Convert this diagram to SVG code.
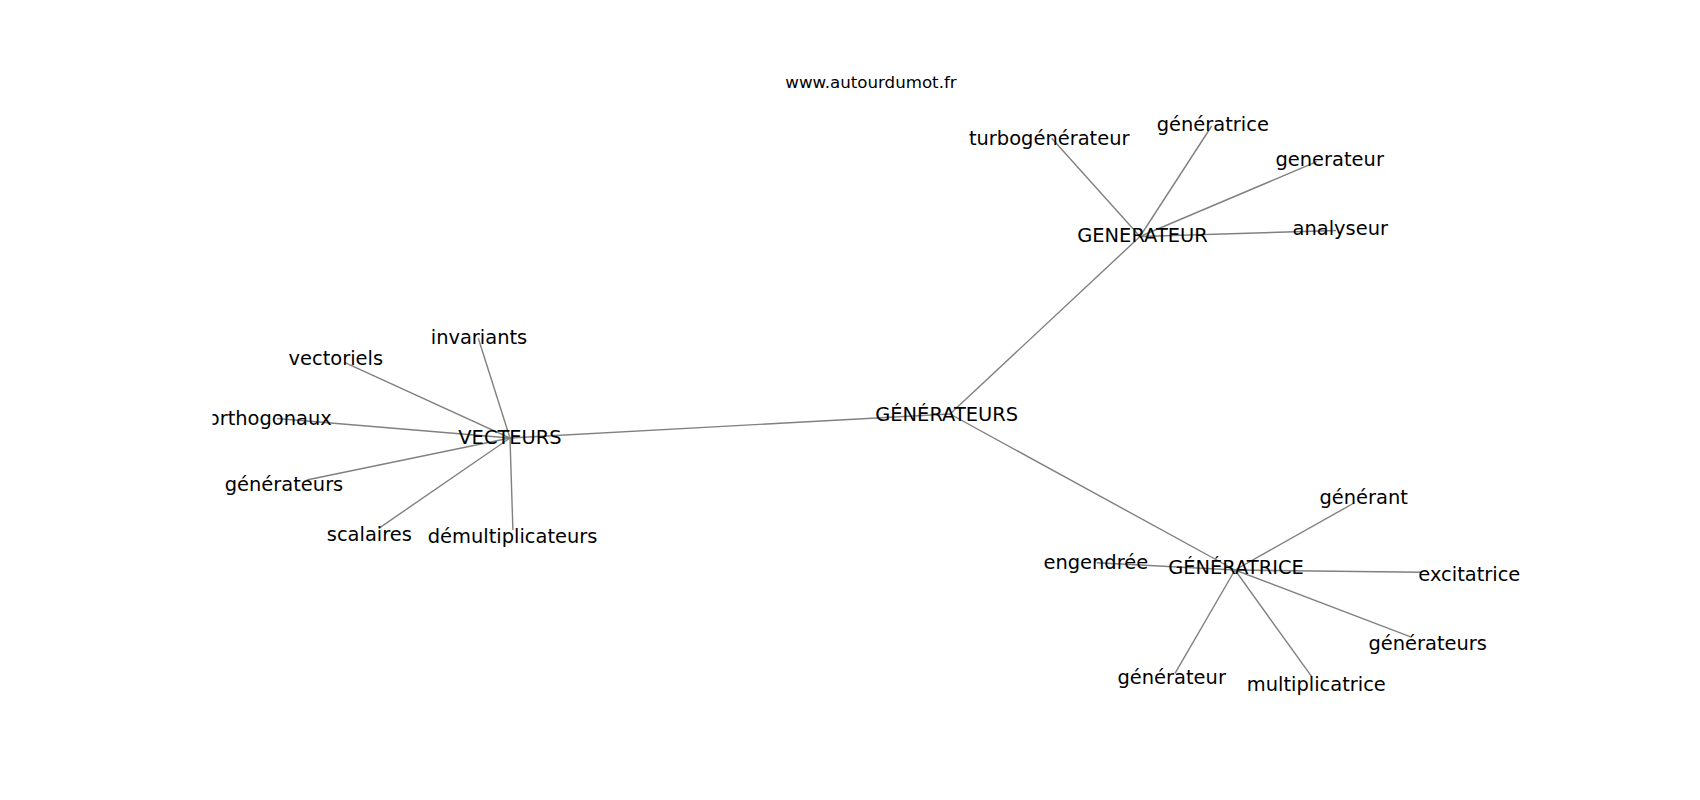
<svg xmlns="http://www.w3.org/2000/svg" width="1700" height="800" viewBox="0 0 1700 800">
<style>
.lbl{font-family:"DejaVu Sans","Liberation Sans",sans-serif;font-size:19.44px;fill:#000;text-anchor:middle}
.ttl{font-family:"DejaVu Sans","Liberation Sans",sans-serif;font-size:16.67px;fill:#000;text-anchor:middle}
.e{stroke:#808080;stroke-width:1.4;fill:none}
</style>
<defs>
<clipPath id="ax"><rect x="212.5" y="96" width="1317.5" height="616"/></clipPath>
</defs>
<rect width="1700" height="800" fill="#fff"/>
<text class="ttl" x="871" y="88">www.autourdumot.fr</text>
<g id="connectors" clip-path="url(#ax)">
<line class="e" x1="510" y1="438" x2="950" y2="414"/>
<line class="e" x1="950" y1="414" x2="1140" y2="236.5"/>
<line class="e" x1="950" y1="414" x2="1235" y2="570"/>
<line class="e" x1="510" y1="438" x2="478.3" y2="338.3"/>
<line class="e" x1="510" y1="438" x2="345" y2="362.7"/>
<line class="e" x1="510" y1="438" x2="277" y2="418.5"/>
<line class="e" x1="510" y1="438" x2="306.7" y2="480"/>
<line class="e" x1="510" y1="438" x2="378.8" y2="528.3"/>
<line class="e" x1="510" y1="438" x2="512.9" y2="530"/>
<line class="e" x1="1140" y1="236.5" x2="1051.7" y2="138.3"/>
<line class="e" x1="1140" y1="236.5" x2="1211.7" y2="126"/>
<line class="e" x1="1140" y1="236.5" x2="1316.7" y2="161.7"/>
<line class="e" x1="1140" y1="236.5" x2="1336" y2="230.5"/>
<line class="e" x1="1235" y1="570" x2="1354" y2="503"/>
<line class="e" x1="1235" y1="570" x2="1096.7" y2="562.7"/>
<line class="e" x1="1235" y1="570" x2="1422" y2="572.3"/>
<line class="e" x1="1235" y1="570" x2="1410" y2="636.7"/>
<line class="e" x1="1235" y1="570" x2="1175" y2="673.3"/>
<line class="e" x1="1235" y1="570" x2="1311.7" y2="676.7"/>
</g>
<g clip-path="url(#ax)">
<g id="n-generateurs-center"><text class="lbl" x="946.7" y="420.5">GÉNÉRATEURS</text></g>
<g id="n-vecteurs"><text class="lbl" x="510" y="443.8">VECTEURS</text></g>
<g id="n-generateur-caps"><text class="lbl" x="1142.5" y="242">GENERATEUR</text></g>
<g id="n-generatrice-caps"><text class="lbl" x="1236" y="573.8">GÉNÉRATRICE</text></g>
<g id="n-invariants"><text class="lbl" x="479" y="344">invariants</text></g>
<g id="n-vectoriels"><text class="lbl" x="335.8" y="365">vectoriels</text></g>
<g id="n-orthogonaux"><text class="lbl" x="269.8" y="425">orthogonaux</text></g>
<g id="n-generateurs-left"><text class="lbl" x="284" y="491">générateurs</text></g>
<g id="n-scalaires"><text class="lbl" x="369.3" y="540.5">scalaires</text></g>
<g id="n-demultiplicateurs"><text class="lbl" x="512.6" y="542.5">démultiplicateurs</text></g>
<g id="n-turbogenerateur"><text class="lbl" x="1049.2" y="145">turbogénérateur</text></g>
<g id="n-generatrice"><text class="lbl" x="1212.8" y="131">génératrice</text></g>
<g id="n-generateur-plain"><text class="lbl" x="1329.7" y="166">generateur</text></g>
<g id="n-analyseur"><text class="lbl" x="1340.3" y="235">analyseur</text></g>
<g id="n-generant"><text class="lbl" x="1363.7" y="504">générant</text></g>
<g id="n-engendree"><text class="lbl" x="1095.8" y="569">engendrée</text></g>
<g id="n-excitatrice"><text class="lbl" x="1469.3" y="580.5">excitatrice</text></g>
<g id="n-generateurs-right"><text class="lbl" x="1427.7" y="650">générateurs</text></g>
<g id="n-generateur"><text class="lbl" x="1171.7" y="684">générateur</text></g>
<g id="n-multiplicatrice"><text class="lbl" x="1316.3" y="690.5">multiplicatrice</text></g>
</g>
</svg>
